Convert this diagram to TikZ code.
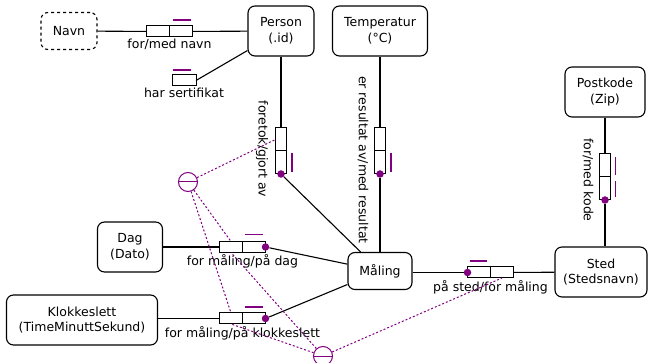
\documentclass[tikz,border=0pt]{standalone}
\usepackage{fontspec}
\setmainfont{DejaVu Sans}
\usepackage{tikz}
\usetikzlibrary{positioning,calc}
\definecolor{ormpurple}{RGB}{128,0,128}
\tikzset{
    entity/.style={draw, rounded corners=7pt, line width=1.1pt, align=center, minimum height=50pt, inner sep=2pt},
    valentity/.style={entity, dashed, minimum height=37pt},
    role/.style={draw, line width=1pt, minimum width=23pt, minimum height=11pt, inner sep=0pt, outer sep=0pt},
    vrole/.style={role, minimum width=11pt, minimum height=23pt},
    link/.style={line width=1.1pt},
    mand/.style={circle, fill=ormpurple, inner sep=0pt, minimum size=7.5pt},
    uniq/.style={draw=ormpurple, line width=1.3pt},
    extuniq/.style={circle, draw=ormpurple, line width=1pt, minimum size=19pt, inner sep=0pt},
    conline/.style={ormpurple, line width=1pt, dash pattern=on 2pt off 2pt},
    lbl/.style={inner sep=1pt}
}

\begin{document}
\begin{tikzpicture}[x=1pt, y=-1pt, node distance=1pt, every node/.style={font=\fontsize{12.5}{15.5}\selectfont}]
        \useasboundingbox (0,0) rectangle (648,363);

        % object types
        \node[valentity, minimum width=56pt] (navn) at (69,31) {Navn};
        \node[entity, minimum width=66pt] (person) at (281,31) {Person\\(.id)};
        \node[entity, minimum width=95pt] (temp) at (380,31) {Temperatur\\(°C)};
        \node[entity, minimum width=65pt] (dag) at (130,247) {Dag\\(Dato)};
        \node[entity, minimum width=151pt] (klokke) at (82,320) {Klokkeslett\\(TimeMinuttSekund)};
        \node[entity, minimum width=64pt, minimum height=37pt] (maling) at (380,271) {Måling};
        \node[entity, minimum width=92pt] (sted) at (601,272) {Sted\\(Stedsnavn)};
        \node[entity, minimum width=80pt] (postkode) at (605,92) {Postkode\\(Zip)};

        % fact types
        \node[role] (navnA) at (158,31.5) {};
        \node[role, right=0pt of navnA] (navnB) {};
        \node[lbl, below=of navnA.south east] {for/med navn};

        \node[role, minimum width=24pt] (sert) at (184,80.5) {};
        \node[lbl, below=of sert.south] {har sertifikat};

        \node[vrole] (foretokA) at (281,139.5) {};
        \node[vrole, below=0pt of foretokA] (foretokB) {};
        \node[mand] (foretokdot) at (foretokB.south) {};
        \node[lbl, rotate=-90] at (262,149) {foretok/gjort av};

        \node[vrole] (tempA) at (380,139.5) {};
        \node[vrole, below=0pt of tempA] (tempB) {};
        \node[mand] (tempdot) at (tempB.south) {};
        \node[lbl, rotate=-90] at (363,160) {er resultat av/med resultat};

        \node[role] (dagA) at (231,247) {};
        \node[role, right=0pt of dagA] (dagB) {};
        \node[mand] (dagdot) at (dagB.east) {};
        \node[lbl, below=of dagA.south east] {for måling/på dag};

        \node[role] (klokA) at (231,318.5) {};
        \node[role, right=0pt of klokA] (klokB) {};
        \node[mand] (klokdot) at (klokB.east) {};
        \node[lbl, below=of klokA.south east] {for måling/på klokkeslett};

        \node[role] (stedA) at (479,272.5) {};
        \node[role, right=0pt of stedA] (stedB) {};
        \node[mand] (steddot) at (stedA.west) {};
        \node[lbl, below=of stedA.south east] {på sted/for måling};

        \node[vrole] (kodeA) at (605,165.5) {};
        \node[vrole, below=0pt of kodeA] (kodeB) {};
        \node[mand] (kodedot) at (kodeB.south) {};
        \node[lbl, rotate=-90] at (588,180) {for/med kode};

        % role links
        \draw[link] (navn) -- (navnA);
        \draw[link] (navnB) -- (person);
        \draw[link] (sert.east) -- (person);
        \draw[link] (person.south) -- (foretokA.north);
        \draw[link] (foretokdot) -- (maling);
        \draw[link] (temp.south) -- (tempA.north);
        \draw[link] (tempdot) -- (maling.north);
        \draw[link] (dag) -- (dagA);
        \draw[link] (dagdot) -- (maling);
        \draw[link] (klokke.east |- klokA) -- (klokA);
        \draw[link] (klokdot) -- (maling);
        \draw[link] (maling.east |- steddot) -- (steddot);
        \draw[link] (stedB) -- (sted);
        \draw[link] (postkode.south -| kodeA) -- (kodeA.north);
        \draw[link] (kodedot) -- (kodedot |- sted.north);

        % uniqueness bars
        \draw[uniq] ([xshift=3pt, yshift=6pt]navnB.north west) -- ([xshift=-2pt, yshift=6pt]navnB.north east);
        \draw[uniq] ([xshift=1pt, yshift=5pt]sert.north west) -- ([xshift=-5pt, yshift=5pt]sert.north east);
        \draw[uniq] ([xshift=5.5pt, yshift=-2pt]foretokB.north east) -- ([xshift=5.5pt, yshift=2pt]foretokB.south east);
        \draw[uniq] ([xshift=5.5pt, yshift=-2pt]tempB.north east) -- ([xshift=5.5pt, yshift=2pt]tempB.south east);
        \draw[uniq] ([xshift=2pt, yshift=7pt]dagB.north west) -- ([xshift=-3pt, yshift=7pt]dagB.north east);
        \draw[uniq] ([xshift=2pt, yshift=6pt]klokB.north west) -- ([xshift=-3pt, yshift=6pt]klokB.north east);
        \draw[uniq] ([xshift=2pt, yshift=6pt]stedA.north west) -- ([xshift=-4pt, yshift=6pt]stedA.north east);
        \draw[uniq] ([xshift=5pt, yshift=-3pt]kodeA.north east) -- ([xshift=5pt, yshift=2pt]kodeA.south east);
        \draw[uniq] ([xshift=5pt, yshift=-4pt]kodeB.north east) -- ([xshift=5pt, yshift=3pt]kodeB.south east);

        % external uniqueness
        \node[extuniq] (ucA) at (188,182) {};
        \draw[ormpurple, line width=1pt] (ucA.west) -- (ucA.east);
        \node[extuniq] (ucB) at (323,356) {};
        \draw[ormpurple, line width=1pt] (ucB.west) -- (ucB.east);

        \draw[conline] (ucA) -- (foretokA.west);
        \draw[conline] (ucA) -- (dagA.north);
        \draw[conline] (ucA) -- (klokA.north);
        \draw[conline] (ucB) -- (dagA.south);
        \draw[conline] (ucB) -- (klokA.south);
        \draw[conline] (ucB) -- (stedB.south);
    \end{tikzpicture}
\end{document}
